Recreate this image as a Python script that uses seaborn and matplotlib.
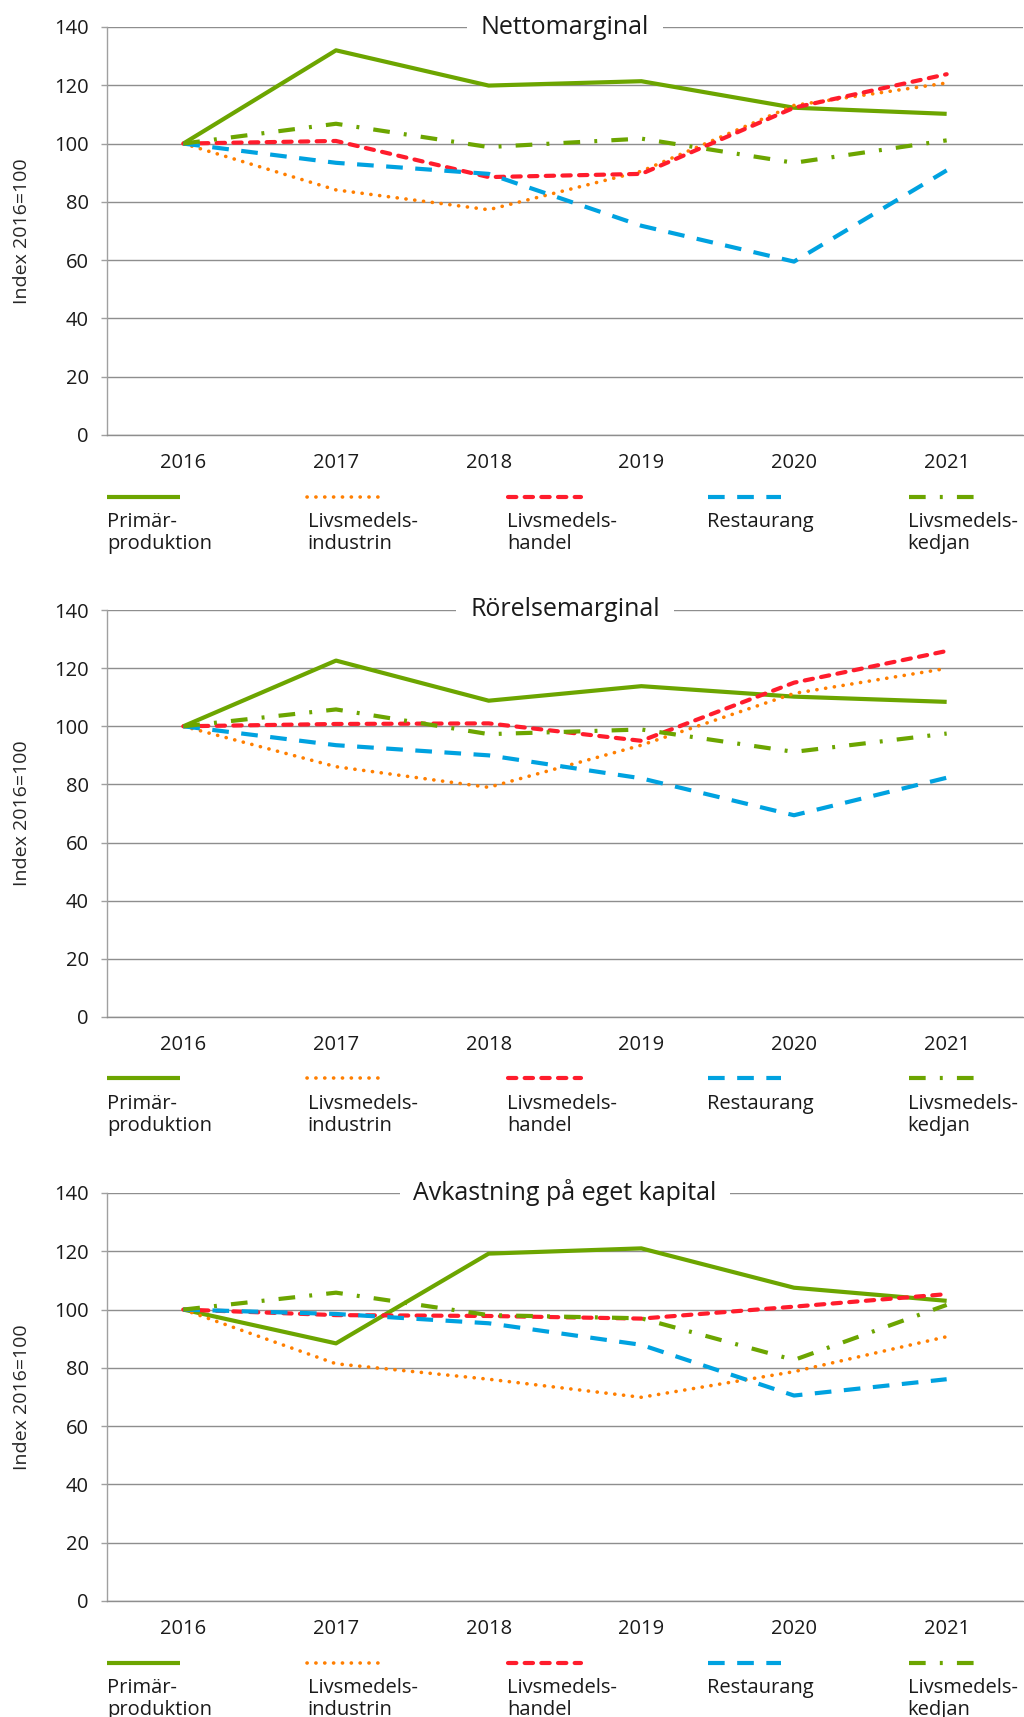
import numpy as np
import pandas as pd
import matplotlib
matplotlib.use("Agg")
import matplotlib.pyplot as plt
import seaborn as sns

years = [2016, 2017, 2018, 2019, 2020, 2021]
series_names = ["Primärproduktion", "Livsmedelsindustrin", "Livsmedelshandel", "Restaurang", "Livsmedelskedjan"]
legend_labels = ["Primär-\nproduktion", "Livsmedels-\nindustrin", "Livsmedels-\nhandel", "Restaurang", "Livsmedels-\nkedjan"]
panel_titles = ["Nettomarginal", "Rörelsemarginal", "Avkastning på eget kapital"]

# Nettomarginal
netto_primar = [100, 132.0, 119.9, 121.4, 112.3, 110.2]
netto_industri = [100, 84.1, 77.3, 90.5, 113.1, 120.8]
netto_handel = [100, 100.9, 88.5, 89.6, 112.3, 123.8]
netto_restaurang = [100, 93.4, 89.6, 71.8, 59.5, 90.8]
netto_kedjan = [100, 106.8, 98.8, 101.7, 93.4, 101.1]

# Rörelsemarginal
rorelse_primar = [100, 122.6, 108.8, 113.8, 110.2, 108.4]
rorelse_industri = [100, 86.1, 79.0, 93.5, 111.3, 119.9]
rorelse_handel = [100, 100.8, 101.0, 95.0, 115.0, 125.9]
rorelse_restaurang = [100, 93.5, 90.0, 82.1, 69.4, 82.3]
rorelse_kedjan = [100, 105.8, 97.3, 98.9, 91.2, 97.5]

# Avkastning på eget kapital
avk_primar = [100, 88.4, 119.2, 121.0, 107.5, 103.0]
avk_industri = [100, 81.4, 76.1, 69.9, 78.7, 90.7]
avk_handel = [100, 98.1, 97.8, 96.9, 101.0, 105.3]
avk_restaurang = [100, 98.5, 95.3, 87.9, 70.5, 76.1]
avk_kedjan = [100, 105.8, 98.1, 97.0, 82.7, 101.6]

panels = [
    [netto_primar, netto_industri, netto_handel, netto_restaurang, netto_kedjan],
    [rorelse_primar, rorelse_industri, rorelse_handel, rorelse_restaurang, rorelse_kedjan],
    [avk_primar, avk_industri, avk_handel, avk_restaurang, avk_kedjan],
]

green = "#6CA500"
orange = "#FF7F00"
red = "#FF1C2C"
blue = "#00A2E0"
grid_c = "#8E8E8E"

styles = [
    dict(color=green, lw=3.0, linestyle="-", solid_capstyle="butt"),
    dict(color=orange, lw=2.6, linestyle=(0, (0.05, 2.4)), dash_capstyle="round"),
    dict(color=red, lw=3.0, linestyle=(0, (2.0, 2.0)), dash_capstyle="round"),
    dict(color=blue, lw=3.0, linestyle=(0, (4.0, 3.0)), dash_capstyle="butt"),
    dict(color=green, lw=3.0, linestyle=(0, (4.0, 3.4, 0.7, 3.4)), dash_capstyle="butt"),
]

sns.set_style("white")
plt.rcParams["font.family"] = ["Open Sans", "DejaVu Sans"]
plt.rcParams["text.color"] = "#1a1a1a"

W, H = 1024, 1717
fig = plt.figure(figsize=(W / 100, H / 100), dpi=100)

axes_px = [(27, 435), (610, 1017), (1193, 1601)]
left_px, right_px = 107, 1023
fs = 14.5
entry_x = [0.0, 0.219, 0.437, 0.655, 0.874]

for p, (top, bot) in enumerate(axes_px):
    ax = fig.add_axes([left_px / W, 1 - bot / H, (right_px - left_px) / W, (bot - top) / H])
    handles = []
    for i, name in enumerate(series_names):
        df = pd.DataFrame({"year": years, "value": panels[p][i]})
        sns.lineplot(data=df, x="year", y="value", ax=ax, label=name, legend=False, **styles[i])
        handles.append(ax.get_lines()[-1])
    ax.set_xlim(2015.5, 2021.5)
    ax.set_ylim(0, 140)
    ax.set_xticks(years)
    ax.set_xticklabels([str(y) for y in years])
    ax.set_yticks(np.arange(0, 141, 20))
    ax.grid(axis="y", color=grid_c, lw=1.0)
    ax.grid(axis="x", visible=False)
    ax.set_axisbelow(True)
    for s in ["top", "right"]:
        ax.spines[s].set_visible(False)
    ax.spines["left"].set_color("#A0A0A0")
    ax.spines["left"].set_linewidth(1.0)
    ax.spines["bottom"].set_color(grid_c)
    ax.spines["bottom"].set_linewidth(1.0)
    ax.tick_params(axis="y", length=4, width=1, color="#A0A0A0", pad=9, labelsize=fs, labelcolor="#1a1a1a", left=True)
    ax.tick_params(axis="x", length=0, pad=13, labelsize=fs, labelcolor="#1a1a1a")
    ax.set_xlabel("")
    ax.set_ylabel("Index 2016=100", fontsize=fs - 0.5, va="center")
    ax.yaxis.set_label_coords(-0.093, 0.5)
    ax.text(0.5, 1.0, panel_titles[p], transform=ax.transAxes, ha="center", va="center",
            fontsize=18, zorder=5, clip_on=False,
            bbox=dict(boxstyle="square,pad=0.55", facecolor="white", edgecolor="none"))
    leg = ax.legend(handles=handles, labels=[""] * 5, loc="center left", bbox_to_anchor=(0, -0.156),
                    ncol=5, frameon=False, borderpad=0, borderaxespad=0, handlelength=3.62,
                    handletextpad=0, columnspacing=6.33, fontsize=fs)
    for i, lab in enumerate(legend_labels):
        ax.text(entry_x[i], -0.189, lab, transform=ax.transAxes, ha="left", va="top",
                fontsize=fs, linespacing=1.15, clip_on=False)

fig.savefig("out.png", dpi=100)
